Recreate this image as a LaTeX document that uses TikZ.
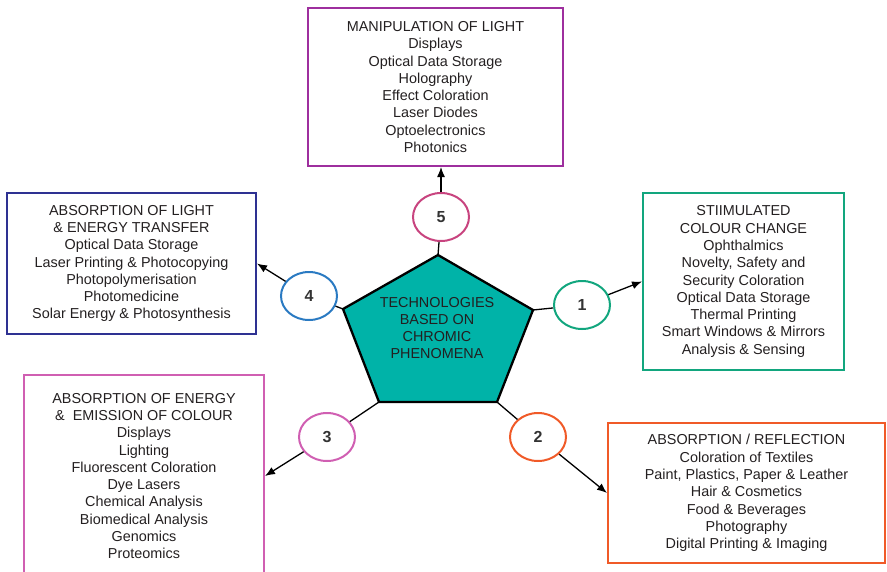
\documentclass[tikz,border=0pt]{standalone}
\usepackage{fontspec}
\setmainfont{Liberation Sans}
\usetikzlibrary{shapes.geometric, arrows.meta}
\definecolor{textgray}{HTML}{231F20}
\definecolor{numgray}{HTML}{333333}
\definecolor{lightpurple}{HTML}{9E2F9E}
\definecolor{lightnavy}{HTML}{2E3192}
\definecolor{changegreen}{HTML}{12A67E}
\definecolor{emitpink}{HTML}{D05FB2}
\definecolor{reflorange}{HTML}{F05A28}
\definecolor{fivered}{HTML}{C8447F}
\definecolor{fourblue}{HTML}{2A7AC2}
\definecolor{chromteal}{HTML}{00B3A8}
\begin{document}
\begin{tikzpicture}[x=1pt, y=-1pt,
  listbox/.style={draw, line width=2pt, text=textgray, align=center, inner sep=0pt, font=\fontsize{14.4}{17.3}\selectfont},
  numring/.style={draw, ellipse, line width=2pt, minimum width=56pt, minimum height=48pt, inner sep=0pt, text=numgray, font=\fontsize{16}{16}\selectfont\bfseries},
  link/.style={line width=1.3pt},
  pointer/.style={line width=1.3pt, -{Latex[length=10pt, width=8pt]}}]
\useasboundingbox (0, 0) rectangle (887, 571);
\node [listbox, draw=lightpurple, minimum width=255pt, minimum height=158pt] (b5) at (435.5, 87) {MANIPULATION OF LIGHT\\ Displays\\ Optical Data Storage\\ Holography\\ Effect Coloration\\ Laser Diodes\\ Optoelectronics\\ Photonics};
\node [listbox, draw=lightnavy, minimum width=249pt, minimum height=141pt] (b4) at (131.5, 263.5) {ABSORPTION OF LIGHT\\ \& ENERGY TRANSFER\\ Optical Data Storage\\ Laser Printing \& Photocopying\\ Photopolymerisation\\ Photomedicine\\ Solar Energy \& Photosynthesis};
\node [listbox, draw=changegreen, minimum width=201pt, minimum height=177pt] (b1) at (743.5, 281.5) {STIIMULATED\\ COLOUR CHANGE\\ Ophthalmics\\ Novelty, Safety and\\ Security Coloration\\ Optical Data Storage\\ Thermal Printing\\ Smart Windows \& Mirrors\\ Analysis \& Sensing};
\node [listbox, draw=emitpink, minimum width=240pt, minimum height=202pt] (b3) at (144, 476) {ABSORPTION OF ENERGY\\ \&\ \ EMISSION OF COLOUR\\ Displays\\ Lighting\\ Fluorescent Coloration\\ Dye Lasers\\ Chemical Analysis\\ Biomedical Analysis\\ Genomics\\ Proteomics};
\node [listbox, draw=reflorange, minimum width=277pt, minimum height=140pt] (b2) at (746.5, 493) {ABSORPTION / REFLECTION\\ Coloration of Textiles\\ Paint, Plastics, Paper \& Leather\\ Hair \& Cosmetics\\ Food \& Beverages\\ Photography\\ Digital Printing \& Imaging};
\coordinate (p5) at (438, 255);
\coordinate (p1) at (533, 310);
\coordinate (p2) at (497, 402);
\coordinate (p3) at (379, 402);
\coordinate (p4) at (343, 309);
\draw [line width=2.3pt, fill=chromteal] (p5) -- (p1) -- (p2) -- (p3) -- (p4) -- cycle;
\node [align=center, text=textgray, font=\fontsize{14.4}{17.3}\selectfont] (tech) at (437, 328) {TECHNOLOGIES\\ BASED ON\\ CHROMIC\\ PHENOMENA};
\node [numring, draw=fivered] (c5) at (441, 217) {5};
\node [numring, draw=fourblue] (c4) at (309, 296) {4};
\node [numring, draw=changegreen] (c1) at (582, 305) {1};
\node [numring, draw=emitpink] (c3) at (327, 437) {3};
\node [numring, draw=reflorange] (c2) at (538, 437) {2};
\draw [link] (p5) -- (c5);
\draw [link] (p4) -- (c4);
\draw [link] (p1) -- (c1);
\draw [link] (p3) -- (c3);
\draw [link] (p2) -- (c2);
\draw [pointer] (c5) -- (c5 |- b5.south);
\draw [pointer] (c4) -- (b4.east);
\draw [pointer] (c1) -- (b1.west);
\draw [pointer] (c3) -- (b3.east);
\draw [pointer] (c2) -- (b2.west);
\end{tikzpicture}
\end{document}
